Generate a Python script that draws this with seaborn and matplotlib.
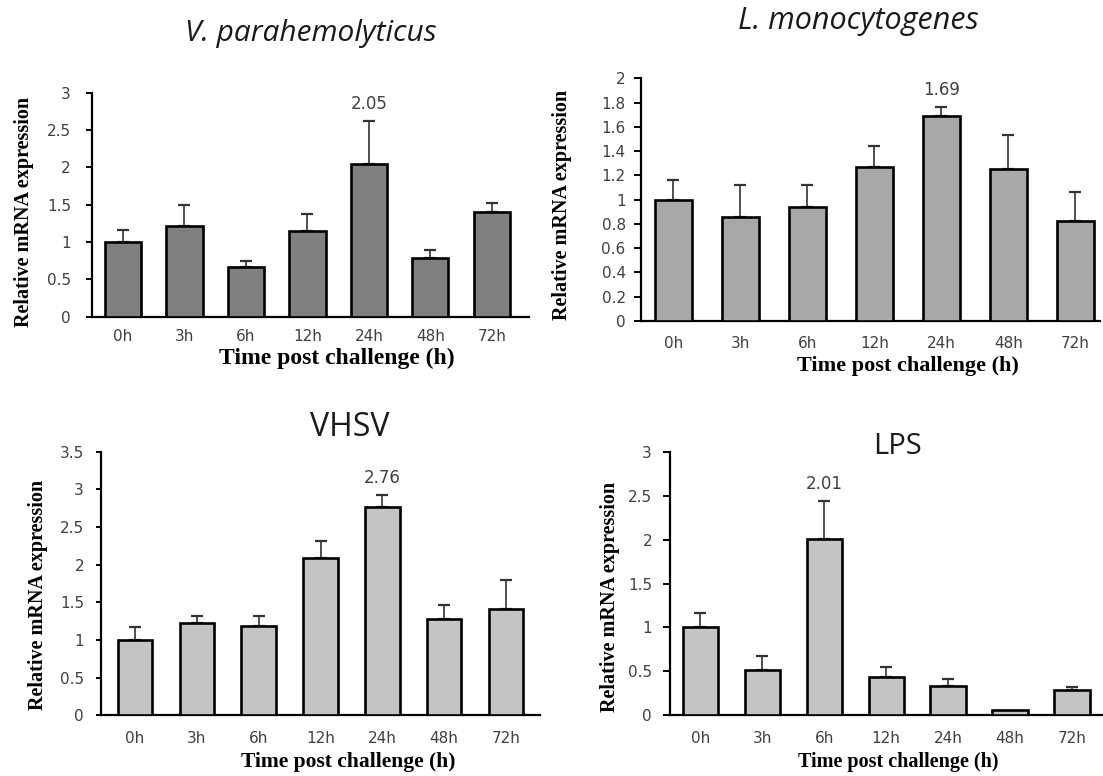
import numpy as np
import pandas as pd
import matplotlib
matplotlib.use("Agg")
import matplotlib.pyplot as plt
import seaborn as sns

# ---- data -------------------------------------------------------------
times = ["0h", "3h", "6h", "12h", "24h", "48h", "72h"]

vp_mean = [1.00, 1.22, 0.66, 1.15, 2.05, 0.79, 1.40]
vp_err = [0.16, 0.27, 0.09, 0.23, 0.57, 0.11, 0.12]

lm_mean = [1.00, 0.86, 0.94, 1.27, 1.69, 1.25, 0.82]
lm_err = [0.16, 0.26, 0.18, 0.17, 0.07, 0.28, 0.24]

vhsv_mean = [1.00, 1.22, 1.19, 2.09, 2.76, 1.28, 1.41]
vhsv_err = [0.17, 0.10, 0.13, 0.23, 0.17, 0.18, 0.38]

lps_mean = [1.00, 0.51, 2.01, 0.44, 0.33, 0.06, 0.29]
lps_err = [0.16, 0.17, 0.43, 0.11, 0.08, 0.00, 0.03]

titles = ["V. parahemolyticus", "L. monocytogenes", "VHSV", "LPS"]
peak_index = [4, 4, 4, 2]
y_max = [3.0, 2.0, 3.5, 3.0]
y_step = [0.5, 0.2, 0.5, 0.5]
y_tick_labels = [
    ["0", "0.5", "1", "1.5", "2", "2.5", "3"],
    ["0", "0.2", "0.4", "0.6", "0.8", "1", "1.2", "1.4", "1.6", "1.8", "2"],
    ["0", "0.5", "1", "1.5", "2", "2.5", "3", "3.5"],
    ["0", "0.5", "1", "1.5", "2", "2.5", "3"],
]
x_title = "Time post challenge (h)"
y_title = "Relative mRNA expression"

# ---- layout (figure pixels, origin top-left) ---------------------------
W, H = 1103, 776
panels = [
    dict(box=(92, 92.7, 528.6, 316.7), xlim=(-0.505, 6.6), width=0.59, color="#808080",
         title_xy=(311, 34), title_style="italic", title_size=21.5,
         xlab_xy=(337, 358), xlab_size=17, ylab_xy=(24, 212), ylab_size=14.5,
         xtick_y=336, ytick_pad=15, tick_len=6),
    dict(box=(640.7, 78.3, 1100, 321), xlim=(-0.487, 6.37), width=0.55, color="#a8a8a8",
         title_xy=(858, 21), title_style="italic", title_size=22,
         xlab_xy=(908, 366), xlab_size=16, ylab_xy=(562, 205), ylab_size=14.5,
         xtick_y=343, ytick_pad=8, tick_len=7),
    dict(box=(101, 451.7, 540, 715.3), xlim=(-0.55, 6.55), width=0.56, color="#c4c4c4",
         title_xy=(350, 427), title_style="normal", title_size=23,
         xlab_xy=(348, 762), xlab_size=15.5, ylab_xy=(38, 595), ylab_size=14.5,
         xtick_y=738, ytick_pad=12, tick_len=5),
    dict(box=(670, 451.7, 1103, 715.3), xlim=(-0.49, 6.5), width=0.57, color="#c4c4c4",
         title_xy=(897, 446), title_style="normal", title_size=21,
         xlab_xy=(898, 762), xlab_size=14.5, ylab_xy=(610, 597), ylab_size=14.5,
         xtick_y=738, ytick_pad=11, tick_len=7),
]
means = [vp_mean, lm_mean, vhsv_mean, lps_mean]
errs = [vp_err, lm_err, vhsv_err, lps_err]

sns.set_theme(style="white")
plt.rcParams["font.family"] = ["DejaVu Sans"]

fig = plt.figure(figsize=(W / 100, H / 100), dpi=100)
fig.patch.set_facecolor("white")

tick_color = "#404040"
px = 0.72  # points per pixel at 100 dpi

for k, p in enumerate(panels):
    left, top, right, bottom = p["box"]
    ax = fig.add_axes([left / W, 1 - bottom / H, (right - left) / W, (bottom - top) / H])
    df = pd.DataFrame({"time": times, "value": means[k]})
    sns.barplot(data=df, x="time", y="value", color=p["color"], saturation=1,
                width=p["width"], edgecolor="black", linewidth=1.9,
                errorbar=None, ax=ax, zorder=3)

    err = np.asarray(errs[k])
    vals = np.asarray(means[k])
    xs = np.arange(len(times))
    has_err = err > 0
    ax.errorbar(xs[has_err], vals[has_err],
                yerr=[np.zeros(has_err.sum()), err[has_err]],
                fmt="none", ecolor="#333333", elinewidth=1.2, capsize=4,
                capthick=1.6, zorder=2)

    # value label above the peak bar
    i = peak_index[k]
    ax.annotate(f"{vals[i]:.2f}", xy=(i, vals[i] + err[i]), xytext=(0, 17),
                textcoords="offset pixels", ha="center", va="center",
                fontsize=12, color=tick_color, zorder=4)

    ax.set_xlim(*p["xlim"])
    ax.set_ylim(0, y_max[k])
    ticks = np.round(np.arange(0, y_max[k] + 1e-9, y_step[k]), 2)
    ax.set_yticks(ticks)
    ax.set_yticklabels(y_tick_labels[k])

    for side in ("top", "right"):
        ax.spines[side].set_visible(False)
    for side in ("left", "bottom"):
        ax.spines[side].set_color("black")
        ax.spines[side].set_linewidth(1.6)
    ax.set_facecolor("none")

    ax.tick_params(axis="y", which="major", left=True, length=p["tick_len"] * px,
                   width=1.4, color="black", pad=p["ytick_pad"] * px,
                   labelsize=11, labelcolor=tick_color)
    ax.tick_params(axis="x", which="major", bottom=False, length=0,
                   pad=(p["xtick_y"] - bottom - 7) * px,
                   labelsize=11, labelcolor=tick_color)

    def to_axes(xp, yp):
        return (xp - left) / (right - left), (bottom - yp) / (bottom - top)

    ax.set_xlabel(x_title, family="Liberation Serif", weight="bold",
                  fontsize=p["xlab_size"], color="black")
    ax.xaxis.set_label_coords(*to_axes(*p["xlab_xy"]))
    ax.xaxis.label.set_va("center")
    ax.set_ylabel(y_title, family="Liberation Serif", weight="bold",
                  fontsize=p["ylab_size"], color="black")
    ax.yaxis.set_label_coords(*to_axes(*p["ylab_xy"]))
    ax.yaxis.label.set_va("center")

    tx, ty = to_axes(*p["title_xy"])
    ax.text(tx, ty, titles[k], transform=ax.transAxes, ha="center", va="center",
            family="Open Sans", style=p["title_style"], fontsize=p["title_size"],
            color="#1a1a1a", clip_on=False)

fig.savefig("out.png", dpi=100, facecolor="white")
